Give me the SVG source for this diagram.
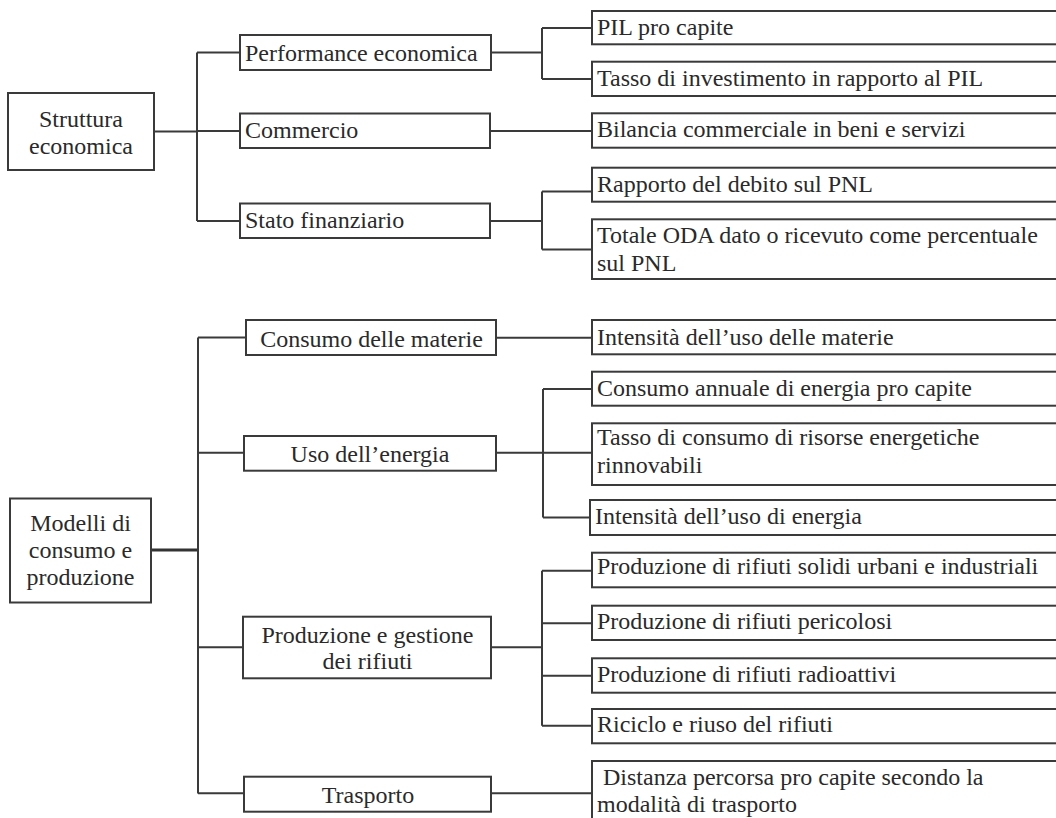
<svg xmlns="http://www.w3.org/2000/svg" width="1056" height="818" viewBox="0 0 1056 818">
  <style>
    .box { fill: #ffffff; stroke: #3a3a3a; stroke-width: 2; }
    .lbl { font-family: "Liberation Serif", "Times New Roman", serif; font-size: 24px; fill: #2a2a2a; }
    .mid { text-anchor: middle; }
    .wire { fill: none; stroke: #3a3a3a; stroke-width: 2; }
    .wire-b { fill: none; stroke: #333333; stroke-width: 3; }
  </style>
  <rect x="0" y="0" width="1056" height="818" fill="#ffffff"/>

  <!-- connectors -->
  <g id="connectors">
    <!-- Struttura economica -->
    <path class="wire" d="M154 131.5 H197 M197 52.5 V221 M197 52.5 H240 M197 131 H240 M197 221 H240"/>
    <path class="wire" d="M491 52.5 H542 M542 28 V79 M542 28 H592 M542 79 H592"/>
    <path class="wire" d="M490 131 H592"/>
    <path class="wire" d="M490 221 H542 M542 191.5 V249.5 M542 191.5 H592 M542 249.5 H592"/>
    <!-- Modelli di consumo e produzione -->
    <path class="wire-b" d="M151 550 H198"/>
    <path class="wire" d="M198 337.5 V793.5 M198 337.5 H246 M198 452.7 H244 M198 647.3 H243 M198 793.3 H244"/>
    <path class="wire" d="M496 337.7 H592"/>
    <path class="wire" d="M496 452.7 H543 M543 389 V517.5 M543 389 H592 M543 452.7 H592 M543 517.5 H590"/>
    <path class="wire" d="M491 647.3 H542 M542 570.7 V725.7 M542 570.7 H592 M542 623.3 H592 M542 675.7 H592 M542 725.7 H592"/>
    <path class="wire" d="M491 793.3 H592"/>
  </g>

  <!-- roots -->
  <g id="struttura-economica">
    <rect class="box" x="8" y="93" width="146" height="77"/>
    <text class="lbl mid" x="81" y="126.5">Struttura</text>
    <text class="lbl mid" x="81" y="153.5">economica</text>
  </g>
  <g id="modelli-consumo-produzione">
    <rect class="box" x="10" y="498.5" width="141" height="104"/>
    <text class="lbl mid" x="80.5" y="530.5">Modelli di</text>
    <text class="lbl mid" x="80.5" y="558">consumo e</text>
    <text class="lbl mid" x="80.5" y="584.5">produzione</text>
  </g>

  <!-- themes, upper tree -->
  <g id="performance-economica">
    <rect class="box" x="240" y="35" width="251" height="35"/>
    <text class="lbl" x="245" y="60.5">Performance economica</text>
  </g>
  <g id="commercio">
    <rect class="box" x="240" y="113.5" width="250" height="34.5"/>
    <text class="lbl" x="245" y="138">Commercio</text>
  </g>
  <g id="stato-finanziario">
    <rect class="box" x="240" y="203.5" width="250" height="34.5"/>
    <text class="lbl" x="245" y="228">Stato finanziario</text>
  </g>

  <!-- themes, lower tree -->
  <g id="consumo-materie">
    <rect class="box" x="246" y="320" width="250" height="35"/>
    <text class="lbl mid" x="371.5" y="347">Consumo delle materie</text>
  </g>
  <g id="uso-energia">
    <rect class="box" x="244" y="436" width="252" height="34.7"/>
    <text class="lbl mid" x="370" y="462">Uso dell’energia</text>
  </g>
  <g id="gestione-rifiuti">
    <rect class="box" x="243" y="616.7" width="248" height="61.6"/>
    <text class="lbl mid" x="367.5" y="642.5">Produzione e gestione</text>
    <text class="lbl mid" x="367.5" y="669">dei rifiuti</text>
  </g>
  <g id="trasporto">
    <rect class="box" x="244" y="776.7" width="247" height="35"/>
    <text class="lbl mid" x="368" y="803">Trasporto</text>
  </g>

  <!-- indicators, upper tree -->
  <g id="pil-pro-capite">
    <rect class="box" x="592" y="11" width="470" height="33.3"/>
    <text class="lbl" x="597" y="34.5">PIL pro capite</text>
  </g>
  <g id="tasso-investimento">
    <rect class="box" x="592" y="61.7" width="470" height="34.3"/>
    <text class="lbl" x="597" y="86">Tasso di investimento in rapporto al PIL</text>
  </g>
  <g id="bilancia-commerciale">
    <rect class="box" x="592" y="113.3" width="470" height="34.4"/>
    <text class="lbl" x="597" y="137">Bilancia commerciale in beni e servizi</text>
  </g>
  <g id="rapporto-debito">
    <rect class="box" x="592" y="167.7" width="470" height="34"/>
    <text class="lbl" x="597" y="192">Rapporto del debito sul PNL</text>
  </g>
  <g id="totale-oda">
    <rect class="box" x="592" y="219.3" width="470" height="59.7"/>
    <text class="lbl" x="597" y="242.5">Totale ODA dato o ricevuto come percentuale</text>
    <text class="lbl" x="597" y="270.5">sul PNL</text>
  </g>

  <!-- indicators, lower tree -->
  <g id="intensita-materie">
    <rect class="box" x="592" y="320" width="470" height="34.3"/>
    <text class="lbl" x="597" y="345">Intensità dell’uso delle materie</text>
  </g>
  <g id="consumo-annuale-energia">
    <rect class="box" x="592" y="371.7" width="470" height="34"/>
    <text class="lbl" x="597" y="396">Consumo annuale di energia pro capite</text>
  </g>
  <g id="tasso-rinnovabili">
    <rect class="box" x="592" y="423.3" width="470" height="61.7"/>
    <text class="lbl" x="597" y="445">Tasso di consumo di risorse energetiche</text>
    <text class="lbl" x="597" y="473">rinnovabili</text>
  </g>
  <g id="intensita-energia">
    <rect class="box" x="590" y="500" width="472" height="35"/>
    <text class="lbl" x="595" y="523.5">Intensità dell’uso di energia</text>
  </g>
  <g id="rifiuti-solidi">
    <rect class="box" x="592" y="552.7" width="470" height="34.6"/>
    <text class="lbl" x="597" y="574">Produzione di rifiuti solidi urbani e industriali</text>
  </g>
  <g id="rifiuti-pericolosi">
    <rect class="box" x="592" y="605.7" width="470" height="34.3"/>
    <text class="lbl" x="597" y="628.5">Produzione di rifiuti pericolosi</text>
  </g>
  <g id="rifiuti-radioattivi">
    <rect class="box" x="592" y="658.3" width="470" height="34.4"/>
    <text class="lbl" x="597" y="682">Produzione di rifiuti radioattivi</text>
  </g>
  <g id="riciclo-rifiuti">
    <rect class="box" x="592" y="709" width="470" height="34.3"/>
    <text class="lbl" x="597" y="732">Riciclo e riuso del rifiuti</text>
  </g>
  <g id="distanza-percorsa">
    <rect class="box" x="592" y="761" width="470" height="62"/>
    <text class="lbl" x="603" y="785">Distanza percorsa pro capite secondo la</text>
    <text class="lbl" x="597" y="812">modalità di trasporto</text>
  </g>
</svg>
